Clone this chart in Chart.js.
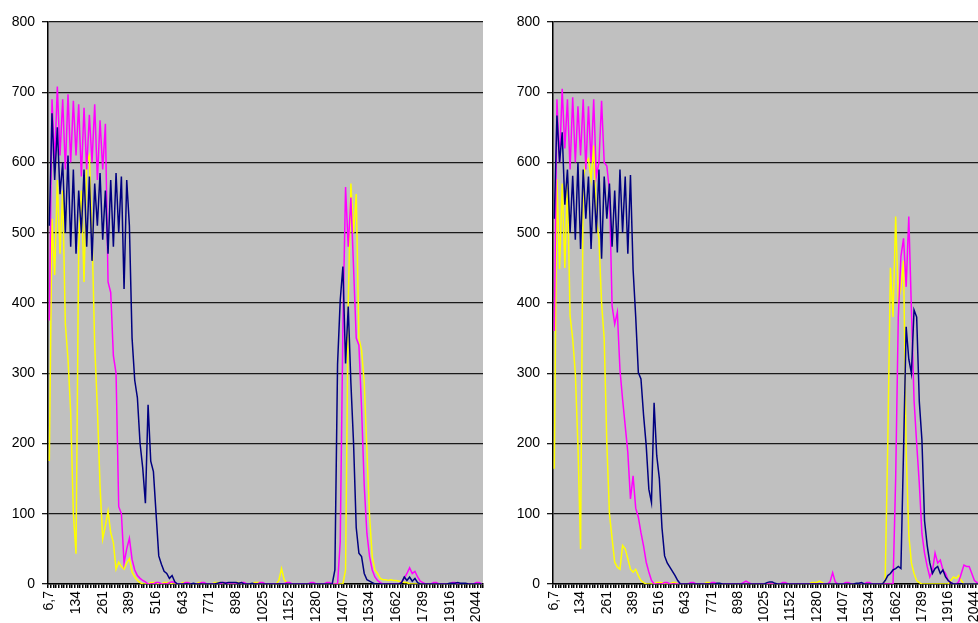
<!DOCTYPE html>
<html>
<head>
<meta charset="utf-8">
<script src="https://cdn.jsdelivr.net/npm/chart.js@4/dist/chart.umd.min.js"></script>
<style>
  html, body { margin: 0; padding: 0; background: #fff; overflow: hidden; width: 978px; height: 623px; }
  .panel { position: absolute; top: 0; }
  #leftPanel { left: 0; }
  #rightPanel { left: 505px; }
</style>
</head>
<body>
<div class="panel" id="leftPanel"><canvas id="leftCanvas" width="490" height="623"></canvas></div>
<div class="panel" id="rightPanel"><canvas id="rightCanvas" width="476" height="623"></canvas></div>
<script>
// axis labels, one every 10 samples
const tickLabels = ["6,7", "134", "261", "389", "516", "643", "771", "898", "1025",
    "1152", "1280", "1407", "1534", "1662", "1789", "1916", "2044"];
const pointCount = 163;
const categories = Array.from({ length: pointCount },
    (_, i) => (i % 10 === 0 && tickLabels[i / 10]) ? tickLabels[i / 10] : "");

// left graph
const leftNavy = [
    510, 670, 575, 650, 555, 600, 500, 610, 480, 590,
    470, 560, 500, 590, 480, 580, 460, 570, 510, 585,
    490, 560, 470, 575, 480, 585, 500, 580, 420, 575,
    510, 350, 290, 265, 200, 165, 115, 255, 175, 160,
    100, 40, 28, 18, 15, 8, 12, 3, 0, 0,
    0, 0, 0, 0, 1, 0, 0, 0, 0, 0,
    0, 0, 0, 1, 2, 2, 1, 2, 2, 2,
    2, 1, 2, 0, 0, 0, 1, 0, 0, 0,
    0, 0, 0, 0, 0, 0, 0, 0, 0, 0,
    0, 0, 0, 0, 0, 0, 0, 0, 0, 0,
    0, 0, 0, 0, 0, 0, 0, 20, 313, 404,
    452, 314, 395, 286, 200, 80, 44, 39, 15, 6,
    4, 2, 0, 0, 0, 0, 0, 0, 0, 0,
    0, 0, 2, 10, 5, 10, 4, 8, 2, 0,
    0, 0, 0, 0, 0, 0, 0, 0, 0, 0,
    1, 1, 1, 2, 1, 1, 1, 0, 0, 0,
    0, 0, 0
];
const leftMagenta = [
    375, 690, 600, 708, 610, 690, 590, 697, 600, 688,
    610, 683, 580, 678, 590, 668, 600, 683, 575, 660,
    590, 655, 430, 415, 325, 300, 110, 100, 30, 50,
    65, 35, 20, 12, 8, 5, 3, 0, 0, 0,
    2, 2, 0, 0, 0, 2, 3, 2, 0, 0,
    0, 2, 2, 0, 0, 0, 0, 2, 2, 0,
    0, 0, 0, 0, 0, 2, 2, 0, 0, 0,
    0, 0, 2, 2, 0, 0, 0, 0, 0, 2,
    2, 0, 0, 0, 0, 0, 0, 0, 0, 2,
    2, 0, 0, 0, 0, 0, 0, 0, 2, 2,
    0, 0, 0, 0, 2, 2, 0, 0, 0, 60,
    366, 565, 480, 550, 450, 350, 340, 250, 140, 72,
    39, 20, 10, 5, 2, 0, 0, 0, 0, 0,
    0, 0, 3, 8, 15, 23, 15, 18, 10, 4,
    2, 0, 0, 0, 2, 2, 0, 0, 0, 0,
    0, 2, 2, 0, 0, 0, 0, 0, 0, 0,
    2, 2, 0
];
const leftYellow = [
    175, 520, 440, 575, 470, 560, 370, 320, 245, 100,
    43, 480, 560, 430, 600, 610, 500, 340, 250, 140,
    64, 83, 104, 73, 59, 21, 31, 25, 21, 30,
    36, 17, 10, 5, 2, 0, 0, 0, 2, 2,
    2, 0, 0, 2, 2, 2, 0, 0, 0, 0,
    2, 2, 2, 0, 0, 0, 2, 2, 0, 0,
    0, 0, 2, 2, 2, 0, 0, 0, 0, 0,
    2, 2, 0, 0, 0, 0, 0, 2, 2, 2,
    0, 0, 0, 0, 0, 0, 5, 22, 6, 2,
    0, 0, 0, 0, 0, 0, 0, 0, 0, 0,
    0, 0, 0, 0, 0, 0, 0, 0, 0, 0,
    0, 20, 400, 570, 500, 555, 350, 333, 286, 190,
    96, 39, 20, 15, 8, 6, 6, 5, 6, 5,
    5, 4, 3, 2, 2, 0, 0, 0, 0, 0,
    0, 0, 0, 0, 0, 0, 0, 0, 0, 0,
    0, 0, 0, 0, 0, 0, 0, 0, 0, 0,
    0, 0, 0
];

// right graph
const rightNavy = [
    520, 667, 600, 643, 540, 590, 500, 581, 490, 600,
    477, 590, 520, 580, 477, 575, 500, 590, 463, 580,
    520, 570, 480, 560, 472, 590, 500, 580, 470, 582,
    448, 380, 301, 292, 240, 197, 135, 116, 258, 183,
    150, 80, 40, 30, 24, 18, 12, 5, 0, 0,
    0, 0, 0, 0, 0, 0, 0, 0, 0, 0,
    0, 0, 1, 1, 0, 0, 0, 0, 0, 0,
    0, 0, 0, 0, 0, 0, 0, 0, 0, 0,
    0, 2, 3, 3, 1, 0, 0, 0, 0, 0,
    0, 0, 0, 0, 0, 0, 0, 0, 0, 0,
    0, 0, 0, 0, 0, 0, 0, 0, 0, 0,
    0, 0, 0, 0, 0, 1, 1, 2, 0, 0,
    0, 0, 0, 0, 0, 0, 5, 12, 15, 20,
    22, 25, 22, 190, 366, 320, 300, 390, 380, 260,
    205, 90, 55, 30, 15, 22, 25, 15, 20, 10,
    5, 2, 0, 0, 0, 0, 0, 0, 0, 0,
    0, 0, 0
];
const rightMagenta = [
    360, 690, 600, 705, 620, 690, 590, 693, 600, 680,
    610, 690, 590, 680, 600, 690, 580, 600, 688, 600,
    595, 560, 396, 370, 387, 305, 263, 225, 187, 121,
    154, 108, 95, 73, 54, 31, 17, 5, 0, 0,
    0, 0, 2, 2, 0, 0, 0, 0, 0, 0,
    0, 0, 2, 2, 0, 0, 0, 0, 0, 0,
    2, 2, 0, 0, 0, 0, 0, 0, 0, 0,
    0, 0, 2, 4, 2, 0, 0, 0, 0, 0,
    0, 0, 0, 0, 0, 0, 0, 2, 2, 0,
    0, 0, 0, 0, 0, 0, 0, 0, 0, 0,
    0, 0, 0, 0, 0, 3, 16, 3, 0, 0,
    0, 2, 2, 0, 0, 0, 0, 0, 0, 2,
    2, 0, 0, 0, 0, 0, 0, 0, 0, 0,
    150, 380, 466, 492, 423, 523, 390, 262, 200, 143,
    72, 44, 25, 10, 18, 44, 30, 34, 20, 15,
    5, 2, 0, 0, 3, 15, 27, 25, 25, 15,
    5, 2, 0
];
const rightYellow = [
    164, 576, 448, 570, 450, 572, 382, 349, 300, 197,
    50, 575, 600, 605, 576, 624, 520, 491, 400, 349,
    200, 100, 65, 31, 24, 21, 55, 50, 36, 21,
    17, 21, 12, 5, 2, 0, 0, 0, 0, 2,
    2, 2, 0, 0, 0, 2, 2, 0, 0, 0,
    0, 0, 0, 0, 0, 0, 0, 0, 2, 2,
    0, 0, 0, 0, 0, 0, 0, 0, 0, 0,
    0, 0, 0, 0, 0, 0, 0, 0, 0, 0,
    0, 0, 0, 0, 0, 0, 0, 0, 0, 0,
    0, 0, 0, 0, 0, 0, 0, 0, 2, 2,
    2, 4, 2, 0, 0, 0, 0, 0, 0, 0,
    0, 0, 0, 0, 0, 0, 0, 0, 0, 0,
    0, 0, 0, 0, 0, 0, 5, 200, 450, 380,
    523, 405, 420, 460, 190, 70, 30, 15, 5, 2,
    0, 0, 0, 0, 0, 0, 0, 0, 0, 0,
    0, 5, 10, 8, 12, 5, 0, 0, 0, 0,
    0, 0, 0
];

Chart.defaults.font.family = "'Liberation Sans', Arial, sans-serif";
Chart.defaults.font.size = 14;
Chart.defaults.color = "#000";

// grey plot area behind the grid
const plotBackground = {
    id: "plotBackground",
    beforeDraw(chart) {
        const { ctx, chartArea: a } = chart;
        ctx.save();
        ctx.fillStyle = "#c0c0c0";
        ctx.fillRect(a.left, a.top, a.right - a.left, a.bottom - a.top);
        ctx.restore();
    }
};

function makeChart(canvasId, navy, magenta, yellow, padRight) {
    return new Chart(document.getElementById(canvasId), {
        type: "line",
        data: {
            labels: categories,
            datasets: [
                { data: navy, borderColor: "#000080" },
                { data: magenta, borderColor: "#ff00ff" },
                { data: yellow, borderColor: "#ffff00" }
            ]
        },
        options: {
            responsive: false,
            animation: false,
            events: [],
            layout: { padding: { top: 22, right: padRight, left: 0, bottom: 0 } },
            elements: {
                point: { radius: 0 },
                line: { borderWidth: 1.5, tension: 0 }
            },
            plugins: {
                legend: { display: false },
                tooltip: { enabled: false }
            },
            scales: {
                x: {
                    offset: true,
                    grid: { offset: true, drawOnChartArea: false, color: "#000", lineWidth: 1.5, tickLength: 4 },
                    border: { color: "#000", width: 1.5 },
                    ticks: { autoSkip: false, minRotation: 90, maxRotation: 90, padding: 3 },
                    afterFit(scale) {
                        scale.height = 39;
                        scale.paddingLeft = 0;
                        scale.paddingRight = 0;
                    }
                },
                y: {
                    min: 0,
                    max: 800,
                    ticks: { stepSize: 100, padding: 7 },
                    grid: { color: "#1a1a1a", lineWidth: 1.3, tickLength: 6 },
                    border: { color: "#000", width: 1.5 },
                    afterFit(scale) { scale.width = 48; }
                }
            }
        },
        plugins: [plotBackground]
    });
}

makeChart("leftCanvas", leftNavy, leftMagenta, leftYellow, 7);
makeChart("rightCanvas", rightNavy, rightMagenta, rightYellow, 0);
</script>
</body>
</html>
